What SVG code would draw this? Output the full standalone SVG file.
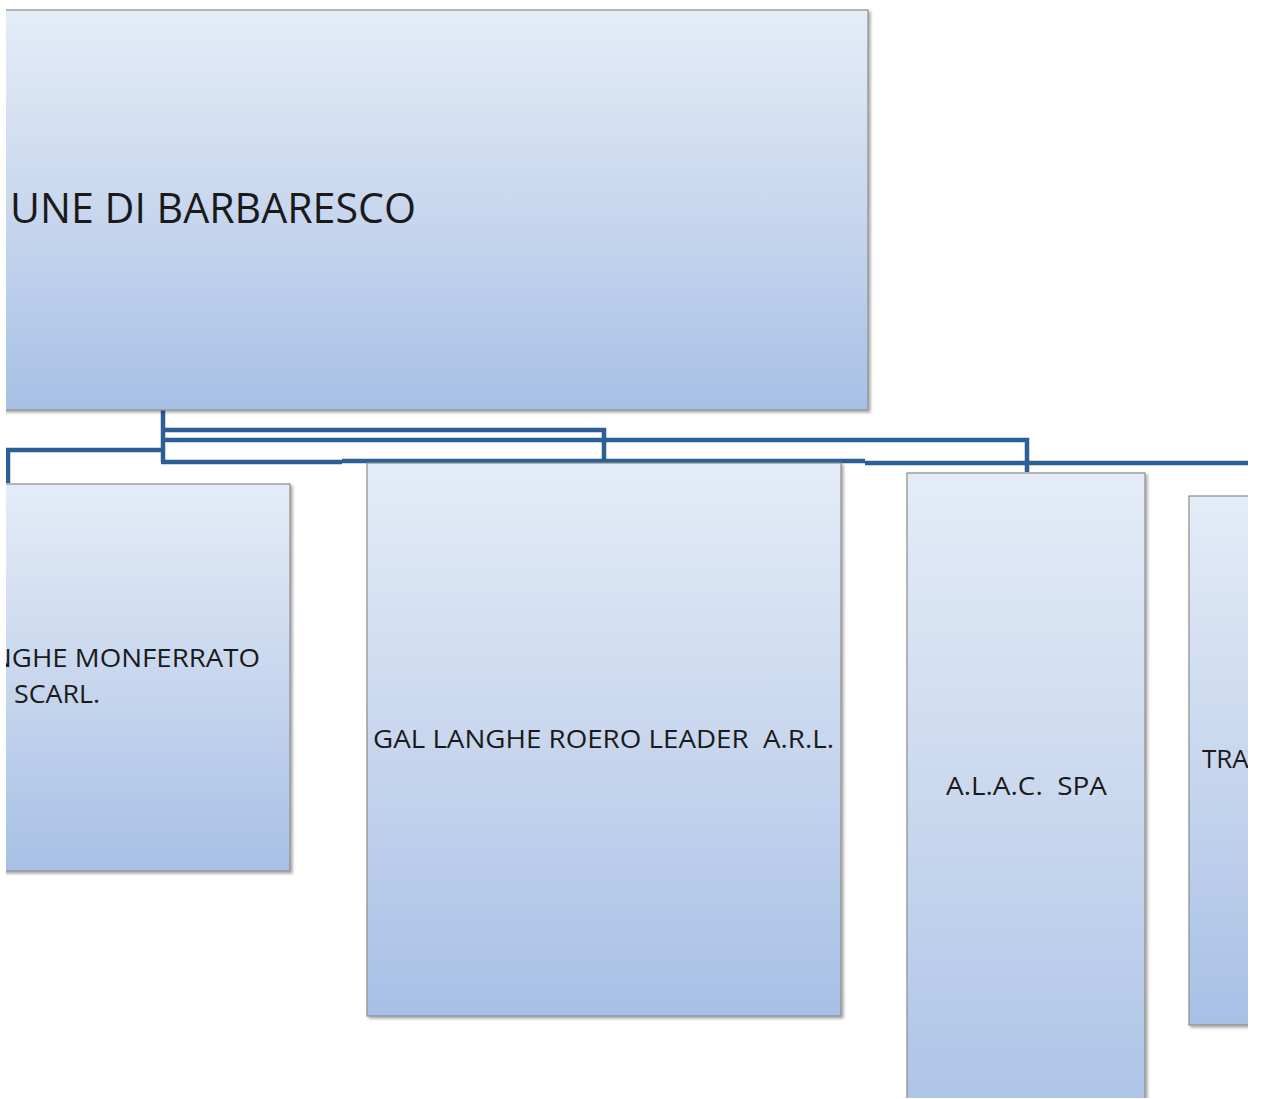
<svg xmlns="http://www.w3.org/2000/svg" width="1261" height="1099" viewBox="0 0 1261 1099">
<style>
.box{fill:url(#g);stroke:#8c8c8c;stroke-width:1.2;filter:url(#sh)}
.t{font-family:"Open Sans","Liberation Sans",sans-serif;fill:#1a1a1a;white-space:pre}
.c{fill:none;stroke:#2b5f96;stroke-width:4.5;stroke-linejoin:miter}
</style>
<defs>
<linearGradient id="g" x1="0" y1="0" x2="0" y2="1">
<stop offset="0" stop-color="#e4ecf7"/>
<stop offset="0.5" stop-color="#c8d7ee"/>
<stop offset="1" stop-color="#a7c0e5"/>
</linearGradient>
<filter id="sh" x="-5%" y="-5%" width="115%" height="115%">
<feDropShadow dx="2" dy="2" stdDeviation="1.5" flood-color="#000" flood-opacity="0.35"/>
</filter>
<clipPath id="clip"><rect x="6" y="0" width="1242" height="1098"/></clipPath>
</defs>
<rect x="0" y="0" width="1261" height="1099" fill="#fff"/>
<g clip-path="url(#clip)">
<g id="connectors">
<path class="c" d="M163,410 V462"/>
<path class="c" d="M163,430 H604 V462"/>
<path class="c" d="M163,440 H1027 V472"/>
<path class="c" d="M163,450 H8 V483"/>
<path class="c" d="M161,462 H342"/>
<path class="c" d="M342,461 H865"/>
<path class="c" d="M865,463 H1260"/>
</g>
<g id="n-comune">
<rect class="box" x="-20" y="10" width="888" height="400"/>
<text class="t" x="10" y="223" font-size="42" textLength="406" lengthAdjust="spacingAndGlyphs">UNE DI BARBARESCO</text>
</g>
<g id="n-langhe">
<rect class="box" x="-20" y="484" width="310" height="387"/>
<text class="t" x="-9" y="667" font-size="26" textLength="269" lengthAdjust="spacingAndGlyphs">NGHE MONFERRATO</text>
<text class="t" x="14" y="703" font-size="26" textLength="86" lengthAdjust="spacingAndGlyphs">SCARL.</text>
</g>
<g id="n-gal">
<rect class="box" x="367" y="463" width="474" height="553"/>
<text class="t" x="373" y="748" font-size="26" textLength="461" lengthAdjust="spacingAndGlyphs" xml:space="preserve">GAL LANGHE ROERO LEADER  A.R.L.</text>
</g>
<g id="n-alac">
<rect class="box" x="907" y="473" width="238" height="700"/>
<text class="t" x="946" y="795" font-size="26" textLength="161" lengthAdjust="spacingAndGlyphs" xml:space="preserve">A.L.A.C.  SPA</text>
</g>
<g id="n-tra">
<rect class="box" x="1189" y="496" width="120" height="529"/>
<text class="t" x="1202" y="768" font-size="26">TRA</text>
</g>
</g>
</svg>
